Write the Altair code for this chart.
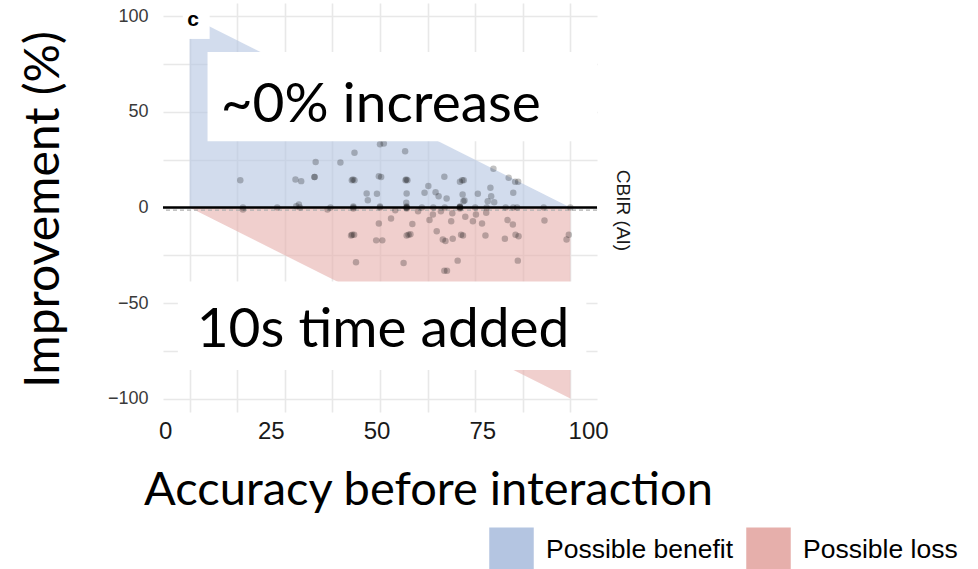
import altair as alt
import pandas as pd

# ---------------- data ----------------
area_x = [0, 100]
benefit_top = [100, 0]
loss_bottom = [0, -100]
region_names = ["Possible benefit", "Possible loss"]
region_colors = ["#b4c5e1", "#e6afab"]

point_x = [
    13.3, 27.8, 29.3, 32.8, 32.8, 33.1, 39.6, 43.3, 50.0, 51.0, 56.6,
    42.6, 43.3, 42.9, 49.7, 50.3, 56.7, 57.2, 56.9, 66.9, 71.0, 71.6, 72.0,
    46.5, 49.2, 46.8, 57.0, 62.7, 61.7, 64.6, 65.4, 67.5, 71.9, 56.9,
    79.8, 83.8, 85.5, 86.3, 79.0, 75.7, 85.0, 79.2, 71.7, 78.3, 80.0, 72.2, 28.7,
    14.0, 23.0, 29.0, 37.0, 43.0, 43.0, 43.0, 50.0, 50.0, 57.0, 57.0, 57.0, 57.0,
    61.0, 64.0, 67.0, 71.0, 71.0, 71.0, 71.0, 71.0, 75.0, 78.0, 83.0, 85.0, 86.0,
    93.0, 100.0,
    14.0, 28.0, 36.2, 49.7, 52.9, 58.5, 63.0, 63.9, 68.7,
    42.7, 43.2, 42.4, 49.0, 50.6, 57.5, 57.0, 58.0,
    64.9, 66.5, 67.2, 69.1, 71.3, 71.8,
    43.7, 56.2, 66.9, 67.6, 70.4,
    72.4, 74.4, 76.8, 83.5, 84.9, 93.2,
    77.7, 82.8, 85.6, 86.4, 99.6, 99.0, 86.2,
    75.2, 77.9, 66.0, 69.0, 60.0, 54.0,
]
point_y = [
    14.3, 14.7, 13.8, 15.9, 15.9, 23.8, 23.5, 28.7, 33.1, 33.5, 29.4,
    14.2, 14.2, 14.6, 16.4, 16.0, 14.2, 14.2, 14.6, 16.1, 13.5, 14.3, 14.3,
    7.3, 7.2, 3.8, 7.3, 11.2, 7.7, 8.0, 5.9, 4.7, 3.3, 2.5,
    20.3, 15.6, 13.5, 13.5, 10.3, 7.2, 7.7, 5.9, 6.8, 3.3, 2.8, 3.7, 1.6,
    0.0, 0.0, 0.0, 0.0, 0.0, 0.5, -0.5, 0.0, 0.5, 0.0, 0.5, -0.5, 0.0,
    0.0, 0.0, 0.0, 0.0, 0.5, -0.5, 0.0, 0.3, 0.0, 0.0, 0.0, 0.0, 0.0,
    0.0, 0.0,
    -1.0, 0.7, -1.0, -8.4, -5.8, -8.6, -6.6, -3.7, -7.2,
    -14.2, -14.2, -14.6, -17.2, -17.2, -14.2, -14.6, -14.0,
    -12.4, -16.8, -17.5, -16.4, -14.2, -14.6,
    -28.7, -29.0, -33.1, -33.1, -27.8,
    -4.9, -7.2, -8.4, -6.6, -8.9, -6.8,
    -14.7, -16.3, -14.2, -15.0, -14.2, -16.8, -27.8,
    -3.7, -2.8, -2.0, -3.0, -2.0, -1.5,
]

annotation_texts = ["~0% increase", "10s time added"]
annotation_text_x = [50.2, 50.8]
annotation_text_y = [44.6, -72.8]
annotation_box_x = [4.7, -3.1, -1.8]
annotation_box_x2 = [107.0, 104.2, 5.25]
annotation_box_y = [81.4, -38.7, 107.0]
annotation_box_y2 = [34.6, -85.0, 88.2]

panel_tag = "c"
x_tick_labels = [0, 25, 50, 75, 100]
facet_label = "CBIR (AI)"

X_DOMAIN = [-7, 107]
Y_DOMAIN = [-107, 107]

# ---------------- tables ----------------
area_df = pd.DataFrame(
    {
        "x": area_x * 2,
        "y": [0, 0, 0, 0],
        "y2": benefit_top + loss_bottom,
        "region": [region_names[0]] * 2 + [region_names[1]] * 2,
    }
)
pts_df = pd.DataFrame({"x": point_x, "y": point_y})
box_df = pd.DataFrame(
    {"x": annotation_box_x, "x2": annotation_box_x2,
     "y": annotation_box_y, "y2": annotation_box_y2}
)
txt_df = pd.DataFrame(
    {"x": annotation_text_x, "y": annotation_text_y, "label": annotation_texts}
)
tag_df = pd.DataFrame({"x": [0.9], "y": [98.2], "label": [panel_tag]})
zero_df = pd.DataFrame({"y": [0]})
dash_df = pd.DataFrame({"y": [-1.4]})
carrier_df = pd.DataFrame({"tick": x_tick_labels, "zero": [0] * len(x_tick_labels)})

GRID = "#e8e8e8"

x_enc = alt.X(
    "x:Q",
    scale=alt.Scale(domain=X_DOMAIN, nice=False, zero=False),
    axis=alt.Axis(
        orient="bottom",
        values=[0, 12.5, 25, 37.5, 50, 62.5, 75, 87.5, 100],
        labels=False, ticks=False, domain=False, title=None,
        grid=True, gridColor=GRID, gridWidth=1.6,
    ),
)
y_enc = alt.Y(
    "y:Q",
    scale=alt.Scale(domain=Y_DOMAIN, nice=False, zero=False),
    axis=alt.Axis(
        values=[-100, -75, -50, -25, 0, 25, 50, 75, 100],
        labelExpr="datum.value % 50 == 0 ? datum.label : ''",
        ticks=False, domain=False,
        labelFont="Liberation Sans", labelFontSize=18, labelColor="#3a3a3a",
        labelPadding=15,
        grid=True, gridColor=GRID, gridWidth=1.6,
        title="Improvement (%)",
        titleFont="Lato", titleFontSize=48, titleFontWeight="normal",
        titleColor="black", titleAngle=-90, titleX=-105, titleY=206,
        titleAlign="center", titleBaseline="alphabetic",
    ),
)

areas = alt.Chart(area_df).mark_area(opacity=0.6).encode(
    x=x_enc,
    y=y_enc,
    y2="y2:Q",
    color=alt.Color(
        "region:N",
        scale=alt.Scale(domain=region_names, range=region_colors),
        legend=alt.Legend(
            title=None, orient="none", direction="horizontal",
            legendX=326, legendY=524, padding=0,
            symbolType="square", symbolSize=1980, symbolStrokeWidth=0,
            symbolOpacity=1, labelLimit=400,
            labelFont="Liberation Sans", labelFontSize=26.5, labelColor="black",
            labelOffset=12, columnPadding=12,
        ),
    ),
)

dashed = alt.Chart(dash_df).mark_rule(
    color="#b0b0b0", strokeWidth=1.2, strokeDash=[4, 3]
).encode(y=y_enc)

zero_line = alt.Chart(zero_df).mark_rule(color="black", strokeWidth=2.6).encode(y=y_enc)

points = alt.Chart(pts_df).mark_circle(size=42, color="black", opacity=0.24).encode(
    x=x_enc, y=y_enc
)

boxes = alt.Chart(box_df).mark_rect(color="white", opacity=1).encode(
    x=x_enc, x2="x2:Q", y=y_enc, y2="y2:Q"
)

texts = alt.Chart(txt_df).mark_text(
    font="Lato", fontSize=55, color="black", align="center", baseline="alphabetic"
).encode(x=x_enc, y=y_enc, text="label:N")

tag = alt.Chart(tag_df).mark_text(
    font="Liberation Sans", fontSize=21, fontWeight="bold", color="black",
    align="center", baseline="middle",
).encode(x=x_enc, y=y_enc, text="label:N")

main = alt.layer(areas, dashed, zero_line, points, boxes, texts, tag)

carrier = alt.Chart(carrier_df).mark_point(opacity=0).encode(
    x=alt.X(
        "tick:Q",
        scale=alt.Scale(domain=[-0.5, 102.1], nice=False, zero=False),
        axis=alt.Axis(
            orient="bottom", values=x_tick_labels, grid=False, ticks=False,
            domain=False, labelFlush=False,
            labelFont="Liberation Sans", labelFontSize=24, labelColor="#1a1a1a",
            labelPadding=7,
            title="Accuracy before interaction",
            titleFont="Lato", titleFontSize=47, titleFontWeight="normal",
            titleColor="black", titleX=265, titleY=92,
            titleAlign="center", titleBaseline="alphabetic",
        ),
    ),
    y=alt.Y(
        "zero:Q",
        scale=alt.Scale(domain=Y_DOMAIN, nice=False, zero=False),
        axis=alt.Axis(
            orient="right", labels=False, ticks=False, domain=False, grid=False,
            title=facet_label, titleFont="Liberation Sans", titleFontSize=19,
            titleFontWeight="normal", titleColor="#1a1a1a", titleAngle=90,
            titleX=25, titleY=207, titleAlign="center", titleBaseline="middle",
        ),
    ),
)

chart = (
    alt.layer(main, carrier)
    .resolve_scale(x="independent", y="independent")
    .properties(
        width=434,
        height=409,
        autosize=alt.AutoSizeParams(type="none"),
        padding={"left": 163, "top": 3, "right": 381, "bottom": 157},
        background="white",
    )
    .configure_view(strokeWidth=0)
)

chart.save("out.html", embed_options={"renderer": "svg", "actions": False})
